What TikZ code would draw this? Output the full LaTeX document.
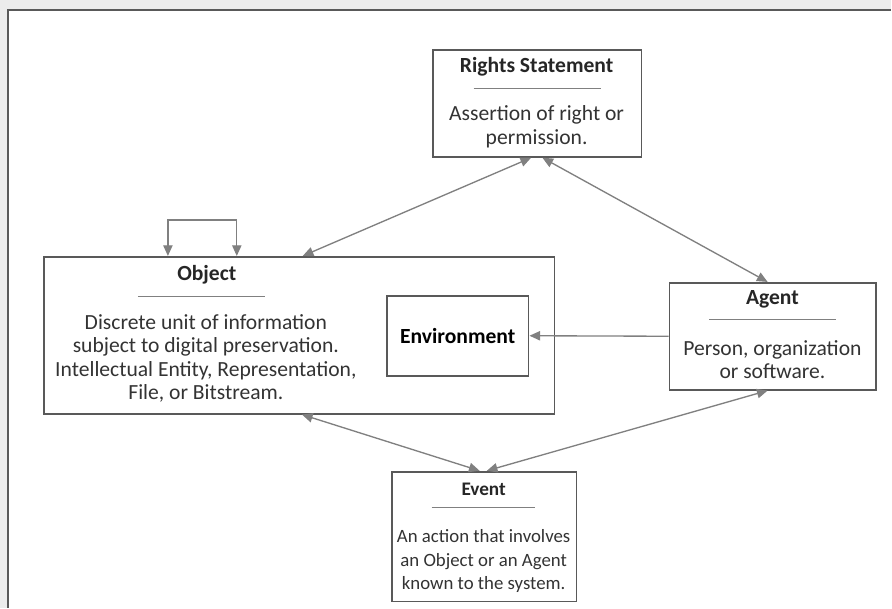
\documentclass[tikz,border=0pt]{standalone}
\usepackage{fontspec}
\setmainfont{Carlito}
\usepackage{tikz}
\usetikzlibrary{arrows.meta}

\definecolor{boxgray}{gray}{0.35}
\definecolor{linkgray}{gray}{0.5}

\begin{document}
\begin{tikzpicture}[x=0.75pt,y=-0.75pt,
 box/.style={draw=boxgray,line width=1.3pt,inner sep=0pt},
 head/.style={font=\fontsize{16.2}{18}\selectfont\bfseries,text=black!85},
 body/.style={align=center,font=\fontsize{16.2}{17.6}\selectfont,text=black!80},
 link/.style={draw=linkgray,line width=1pt,{Triangle[length=8pt,width=7pt]}-{Triangle[length=8pt,width=7pt]}}]
% frame
\fill[gray!15] (0,0) rectangle (892,608);
\fill[white] (8,10) rectangle (892,608);
\draw[boxgray,line width=1pt] (8,608) -- (8,10) -- (892,10);
\useasboundingbox (0,0) rectangle (892,608);

% boxes
\node[box,minimum width=156.75pt,minimum height=80.25pt] (rights) at (537.5,103.5) {};
\node[box,minimum width=383.25pt,minimum height=117.75pt] (object) at (299.5,335.5) {};
\node[box,minimum width=106.5pt,minimum height=60pt,font=\fontsize{16.2}{18}\selectfont\bfseries] (env) at (458,336) {Environment};
\node[box,minimum width=155.25pt,minimum height=80.25pt] (agent) at (773.5,336.5) {};
\node[box,minimum width=138.75pt,minimum height=97.5pt] (event) at (484.5,537) {};

% titles, rules and texts
\node[head] (rightshead) at (537,67) {Rights Statement};
\draw[linkgray] (474,88) -- (601,88);
\node[body] (rightstext) at (537,127) {Assertion of right or\\permission.};

\node[head] (objecthead) at (207,275) {Object};
\draw[linkgray] (138,296) -- (265,296);
\node[body] (objecttext) at (206,358.5) {Discrete unit of information\\subject to digital preservation.\\Intellectual Entity, Representation,\\File, or Bitstream.};

\node[head] (agenthead) at (773,300) {Agent};
\draw[linkgray] (710,320) -- (837,320);
\node[body] (agenttext) at (773,360) {Person, organization\\or software.};

\node[head,font=\fontsize{14.4}{17}\selectfont\bfseries] (eventhead) at (484,490) {Event};
\draw[linkgray] (432,508) -- (535,508);
\node[body,font=\fontsize{14.1}{17.6}\selectfont] (eventtext) at (484,561.5) {An action that involves\\an Object or an Agent\\known to the system.};

% connectors
\draw[link] ([xshift=-4.5pt]rights.south) -- ([xshift=2.6pt]object.north);
\draw[link] ([xshift=4pt]rights.south) -- ([xshift=-4pt]agent.north);
\draw[link,{Triangle[length=8pt,width=7pt]}-] (env.east) -- (agent.west);
\draw[link] ([xshift=2pt]object.south) -- ([xshift=-3.4pt]event.north);
\draw[link] ([xshift=-4pt]agent.south) -- ([xshift=2pt]event.north);
\draw[link] ([xshift=-98.6pt]object.north) -- ++(0,-36) -| ([xshift=-46.9pt]object.north);
\end{tikzpicture}
\end{document}
